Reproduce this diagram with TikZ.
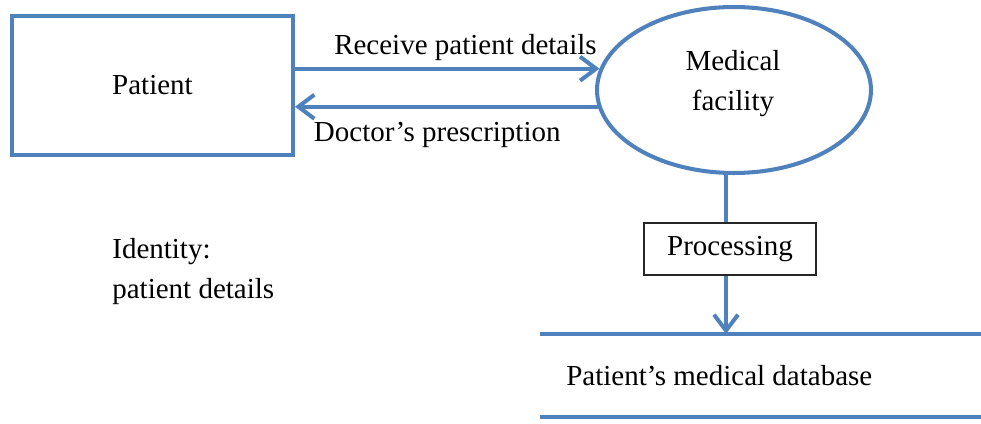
\documentclass[tikz,border=0pt]{standalone}
\usepackage{fontspec}
\setmainfont{Liberation Serif}
\usetikzlibrary{shapes.geometric,arrows.meta}
\definecolor{flowblue}{RGB}{79,129,189}
\begin{document}
\begin{tikzpicture}[x=0.02cm,y=-0.02cm,>={Straight Barb[length=3.2mm,width=4.8mm]},
	flow/.style={draw=flowblue,line width=2.3pt},
	lbl/.style={font=\fontsize{16.5}{22.5}\selectfont,align=center},
	procbox/.style={draw=black!85,line width=0.8pt,fill=white,minimum width=3.44cm,minimum height=1.04cm}]
	% la zone
	\useasboundingbox (0,0) rectangle (981,423);
	% les entites
	\node[flow,lbl,rectangle,minimum width=5.62cm,minimum height=2.78cm] (patient) at (152.5,85.5) {Patient};
	\node[flow,ellipse,minimum width=5.48cm,minimum height=3.32cm] (facility) at (734,90) {};
	\node[lbl,inner sep=0pt,anchor=base] (facilitytxt) at (733,110) {Medical\\facility};
	\node[lbl,inner sep=0pt,anchor=base west,align=left] (identity) at (112,298) {Identity:\\patient details};
% les flux
	\draw[flow,->] (patient.east |- facility.171) -- (facility.171)
		node[lbl,pos=0.56,above] (rcvlbl) {Receive patient details};
	\draw[flow,->] (facility.187) -- (patient.east |- facility.187)
		node[lbl,pos=0.53,below=0.16cm] (rxlbl) {Doctor's prescription};
	% le stockage
	\coordinate (dbtip) at (726,334);
	\coordinate (dbtl) at (540,334);
	\coordinate (dbtr) at (981,334);
	\coordinate (dbbl) at (540,417);
	\coordinate (dbbr) at (981,417);
	\node[procbox,lbl] (proc) at (730,249) {Processing};
	\draw[flow] (facility.south -| dbtip) -- (proc.north -| dbtip);
	\draw[flow,->] (proc.south -| dbtip) -- (dbtip);
	\draw[flow] (dbtl) -- (dbtr);
	\draw[flow] (dbbl) -- (dbbr);
	\node[lbl,inner sep=0pt,anchor=base west] (db) at (566,385) {Patient's medical database};
\end{tikzpicture}
\end{document}
